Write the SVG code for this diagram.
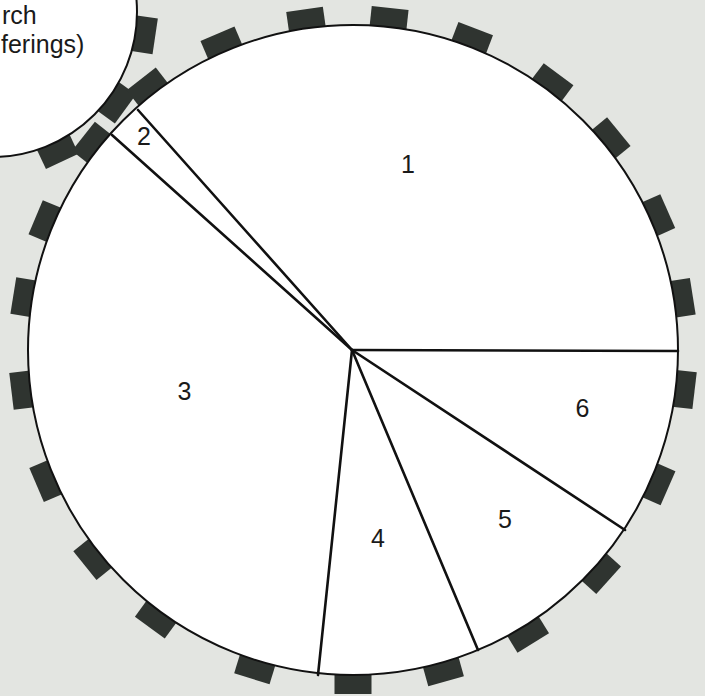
<svg xmlns="http://www.w3.org/2000/svg" xmlns:xlink="http://www.w3.org/1999/xlink" width="705" height="696" viewBox="0 0 705 696">
  <style>
    .bg { fill: #e3e5e1; }
    .tick { fill: #2f3430; }
    .disc { fill: #ffffff; stroke: #111111; stroke-width: 2; }
    .div { stroke: #111111; stroke-width: 2.6; stroke-linecap: round; fill: none; }
    .lbl { font-family: "Liberation Sans", Arial, sans-serif; font-size: 25px; fill: #1a1a1a; }
  </style>
  <defs>
    <rect id="tick" class="tick" x="674" y="331.5" width="23" height="37"/>
    <rect id="sTick" class="tick" x="134" y="-6" width="23" height="36"/>
  </defs>
  <rect class="bg" x="0" y="0" width="705" height="696"/>

  <g id="small-circle">
    <use xlink:href="#sTick" transform="rotate(8.5 -8 12)"/>
    <use xlink:href="#sTick" transform="rotate(36 -8 12)"/>
    <use xlink:href="#sTick" transform="rotate(64.8 -8 12)"/>
    <circle class="disc" cx="-8" cy="12" r="145"/>
    <text class="lbl" x="2" y="24">rch</text>
    <text class="lbl" x="1" y="53">ferings)</text>
  </g>

  <g id="main-circle">
    <g id="ticks">
      <use xlink:href="#tick" transform="rotate(261.9 353 350)"/>
      <use xlink:href="#tick" transform="rotate(276.2 353 350)"/>
      <use xlink:href="#tick" transform="rotate(290.9 353 350)"/>
      <use xlink:href="#tick" transform="rotate(306.7 353 350)"/>
      <use xlink:href="#tick" transform="rotate(320.6 353 350)"/>
      <use xlink:href="#tick" transform="rotate(336.2 353 350)"/>
      <use xlink:href="#tick" transform="rotate(351 353 350)"/>
      <use xlink:href="#tick" transform="rotate(6.8 353 350)"/>
      <use xlink:href="#tick" transform="rotate(23.7 353 350)"/>
      <use xlink:href="#tick" transform="rotate(42 353 350)"/>
      <use xlink:href="#tick" transform="rotate(58.4 353 350)"/>
      <use xlink:href="#tick" transform="rotate(74.3 353 350)"/>
      <use xlink:href="#tick" transform="rotate(90 353 350)"/>
      <use xlink:href="#tick" transform="rotate(107.1 353 350)"/>
      <use xlink:href="#tick" transform="rotate(126.2 353 350)"/>
      <use xlink:href="#tick" transform="rotate(141.2 353 350)"/>
      <use xlink:href="#tick" transform="rotate(156.9 353 350)"/>
      <use xlink:href="#tick" transform="rotate(173.1 353 350)"/>
      <use xlink:href="#tick" transform="rotate(189.1 353 350)"/>
      <use xlink:href="#tick" transform="rotate(202.7 353 350)"/>
      <use xlink:href="#tick" transform="rotate(218.4 353 350)"/>
      <use xlink:href="#tick" transform="rotate(232 353 350)"/>
      <use xlink:href="#tick" transform="rotate(246.8 353 350)"/>
    </g>
    <circle class="disc" cx="353" cy="350" r="325"/>
  </g>

  <g id="dividers">
    <line class="div" x1="352" y1="350" x2="678" y2="351"/>
    <line class="div" x1="352" y1="350" x2="625" y2="530"/>
    <line class="div" x1="352" y1="350" x2="478" y2="650"/>
    <line class="div" x1="352" y1="350" x2="318" y2="675"/>
    <line class="div" x1="352" y1="350" x2="112" y2="135"/>
    <line class="div" x1="352" y1="350" x2="138" y2="110"/>
  </g>

  <g id="slice-1"><text class="lbl" x="408" y="173" text-anchor="middle">1</text></g>
  <g id="slice-2"><text class="lbl" x="144" y="145" text-anchor="middle">2</text></g>
  <g id="slice-3"><text class="lbl" x="184.5" y="400" text-anchor="middle">3</text></g>
  <g id="slice-4"><text class="lbl" x="378" y="547" text-anchor="middle">4</text></g>
  <g id="slice-5"><text class="lbl" x="505" y="528" text-anchor="middle">5</text></g>
  <g id="slice-6"><text class="lbl" x="582.5" y="417" text-anchor="middle">6</text></g>
</svg>
